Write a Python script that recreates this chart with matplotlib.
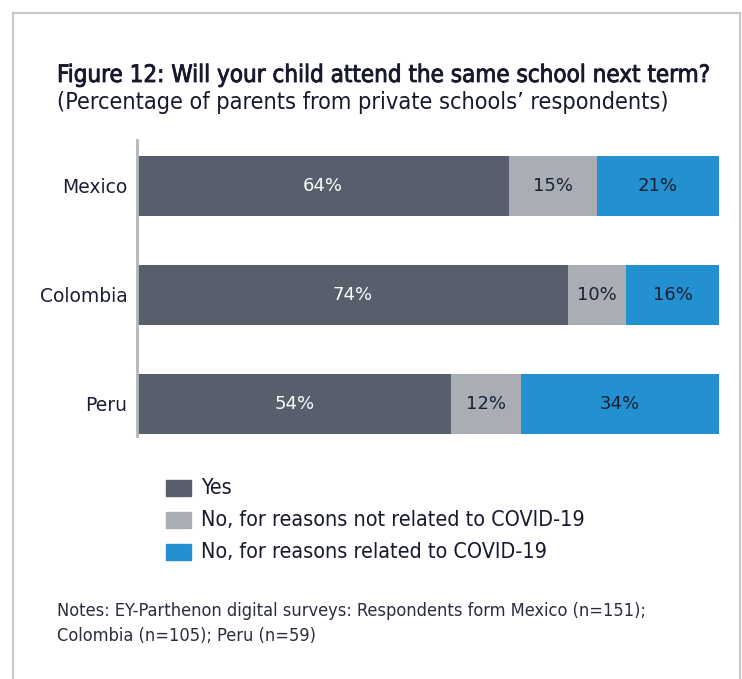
import numpy as np
import matplotlib.pyplot as plt
import matplotlib.patheffects as pe
from matplotlib.lines import Line2D
from matplotlib.patches import Rectangle

countries = ['Mexico', 'Colombia', 'Peru']
yes = [64, 74, 54]
no_other = [15, 10, 12]
no_covid = [21, 16, 34]
series_names = ['Yes', 'No, for reasons not related to COVID-19',
                'No, for reasons related to COVID-19']
colors = ['#565f6b', '#a8aeb4', '#2391cf']
text_colors = ['white', '#1b1f33', '#1b1f33']

W, H = 742, 679
cond = dict(family='DejaVu Sans', stretch='condensed')

fig = plt.figure(figsize=(W / 100, H / 100), dpi=100)
ax = fig.add_axes([137 / W, 1 - 436 / H, 582 / W, 296 / H])

y = np.arange(len(countries))
left = np.zeros(len(countries))
for vals, col, tcol in zip([yes, no_other, no_covid], colors, text_colors):
    ax.barh(y, vals, left=left, height=0.55, color=col)
    for yi, (l, v) in enumerate(zip(left, vals)):
        ax.text(l + v / 2, yi, f'{v}%', ha='center', va='center',
                color=tcol, fontsize=13)
    left += vals

ax.set_xlim(0, 100)
ax.set_ylim(2.294, -0.422)
ax.set_yticks(y)
ax.set_yticklabels(countries, fontsize=13.5, color='#1b1f33')
ax.tick_params(axis='y', length=0, pad=7)
ax.set_xticks([])
for s in ['top', 'right', 'bottom']:
    ax.spines[s].set_visible(False)
ax.spines['left'].set_color('#b3b8bd')
ax.spines['left'].set_linewidth(2)

# outer frame
for xs, ys in [([13, 740], [13, 13]), ([13, 13], [13, 679]), ([740, 740], [13, 679])]:
    fig.add_artist(Line2D([x / W for x in xs], [1 - v / H for v in ys],
                          color='#c5c9ce', lw=1.5))

t = fig.text(57 / W, 1 - 75 / H, 'Figure 12: Will your child attend the same school next term?',
             fontsize=17.3, color='#161a2c', va='center', **cond)
t.set_path_effects([pe.withStroke(linewidth=0.6, foreground='#161a2c')])
fig.text(57 / W, 1 - 103 / H, '(Percentage of parents from private schools\u2019 respondents)',
         fontsize=16.8, color='#161a2c', va='center', **cond)

# legend
for i, (name, col) in enumerate(zip(series_names, colors)):
    yc = 488 + i * 32
    fig.add_artist(Rectangle((166 / W, 1 - (yc + 8) / H), 25 / W, 16 / H,
                             color=col, transform=fig.transFigure))
    fig.text(201 / W, 1 - yc / H, name, fontsize=15.4,
             color='#161a2c', va='center', **cond)

fig.text(57 / W, 1 - 611 / H,
         'Notes: EY-Parthenon digital surveys: Respondents form Mexico (n=151);',
         fontsize=13.1, color='#2a2e3c', va='center', **cond)
fig.text(57 / W, 1 - 636 / H, 'Colombia (n=105); Peru (n=59)',
         fontsize=13.1, color='#2a2e3c', va='center', **cond)

fig.savefig('out.png', dpi=100)
